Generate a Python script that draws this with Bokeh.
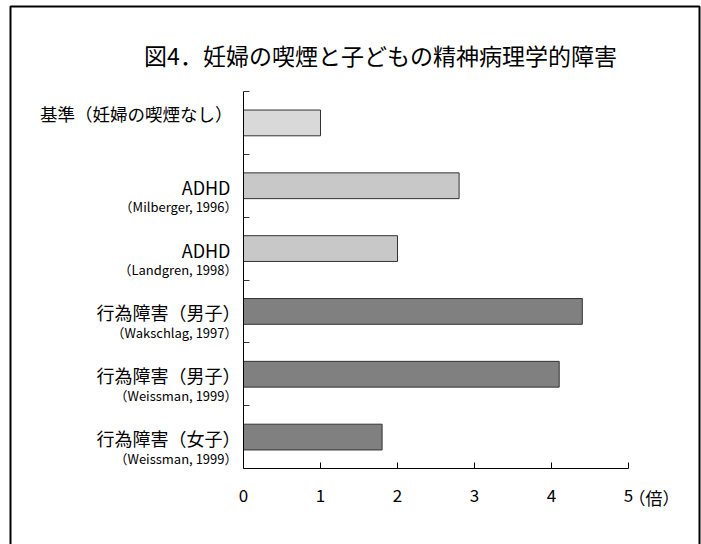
from bokeh.plotting import figure
from bokeh.models import Range1d, FixedTicker, Label, BoxAnnotation
from bokeh.embed import file_html
from bokeh.resources import INLINE

# ---- data ----
main_labels = ["基準（妊婦の喫煙なし）", "ADHD", "ADHD",
               "行為障害（男子）", "行為障害（男子）", "行為障害（女子）"]
sub_labels = ["", "（Milberger, 1996）", "（Landgren, 1998）",
              "（Wakschlag, 1997）", "（Weissman, 1999）", "（Weissman, 1999）"]
ratios = [1.0, 2.8, 2.0, 4.4, 4.1, 1.8]
x_ticks = [0, 1, 2, 3, 4, 5]
x_unit = "（倍）"
title_text = "図4．妊婦の喫煙と子どもの精神病理学的障害"

# ---- styles / layout ----
bar_colors = ["#d9d9d9", "#c8c8c8", "#c8c8c8", "#808080", "#808080", "#808080"]
FONT = "Noto Sans CJK JP"
W, H = 701, 544
PL, PR, PT, PB = 243, 628, 91, 468   # pixel box of the bar area
MAIN_FS, SUB_FS = 18, 13

n = len(main_labels)
centers = [i + 0.5 for i in range(n)]
xmax = x_ticks[-1]
ppx = (PR - PL) / xmax
ppy = (PB - PT) / n

p = figure(width=W, height=H, output_backend="svg", toolbar_location=None,
           x_range=Range1d(-PL / ppx, xmax + (W - PR) / ppx),
           y_range=Range1d(n + (H - PB) / ppy, -PT / ppy),
           min_border=0)
p.title.visible = False
p.outline_line_color = None
p.xgrid.visible = False
p.ygrid.visible = False
p.background_fill_color = "white"
p.border_fill_color = "white"

p.hbar(y=centers, left=0, right=ratios, height=0.41,
       fill_color=bar_colors, line_color="#333333", line_width=1)

# x axis drawn at the bottom of the bar area
xa = p.xaxis[0]
xa.fixed_location = n
xa.bounds = (0, xmax)
xa.ticker = FixedTicker(ticks=x_ticks)
xa.major_tick_in = 6
xa.major_tick_out = 0
xa.minor_tick_line_color = None
xa.axis_line_color = "black"
xa.major_tick_line_color = "black"
xa.major_label_text_font = FONT
xa.major_label_text_font_size = "17px"
xa.major_label_text_color = "black"
xa.major_label_standoff = 20

# y axis at x = 0, short ticks at category boundaries (no labels)
ya = p.yaxis[0]
ya.fixed_location = 0
ya.bounds = (0, n)
ya.ticker = FixedTicker(ticks=[], minor_ticks=list(range(n)))
ya.major_tick_line_color = None
ya.minor_tick_in = 6
ya.minor_tick_out = 0
ya.minor_tick_line_color = "#333333"
ya.minor_tick_line_width = 1
ya.axis_line_color = "black"

# category labels
for i in range(n):
    ends_paren = main_labels[i].endswith("）")
    if sub_labels[i]:
        p.add_layout(Label(x=0, y=centers[i],
                           x_offset=-3 if ends_paren else -13, y_offset=-1,
                           text=main_labels[i], text_align="right",
                           text_baseline="middle", text_font=FONT,
                           text_font_size=f"{MAIN_FS}px", text_color="black"))
        p.add_layout(Label(x=0, y=centers[i], x_offset=-6, y_offset=-21,
                           text=sub_labels[i], text_align="right",
                           text_baseline="middle", text_font=FONT,
                           text_font_size=f"{SUB_FS}px", text_color="black"))
    else:
        p.add_layout(Label(x=0, y=centers[i], x_offset=-11, y_offset=9,
                           text=main_labels[i], text_align="right",
                           text_baseline="middle", text_font=FONT,
                           text_font_size="17.5px", text_color="black"))

# unit label after last x tick
p.add_layout(Label(x=xmax, y=n, x_offset=0, y_offset=-29,
                   text=x_unit, text_align="left", text_baseline="middle",
                   text_font=FONT, text_font_size="17px", text_color="black"))

# title
p.add_layout(Label(x=380, y=H - 54, x_units="screen", y_units="screen",
                   text=title_text, text_align="center", text_baseline="middle",
                   text_font=FONT, text_font_size="23px", text_color="black"))

# outer frame (open at the bottom, beyond the window)
p.add_layout(BoxAnnotation(left=10, right=699, top=H - 6, bottom=-100,
                           left_units="screen", right_units="screen",
                           top_units="screen", bottom_units="screen",
                           fill_alpha=0, fill_color=None,
                           line_color="black", line_alpha=1, line_width=2))

open("out.html", "w").write(file_html(p, INLINE))
